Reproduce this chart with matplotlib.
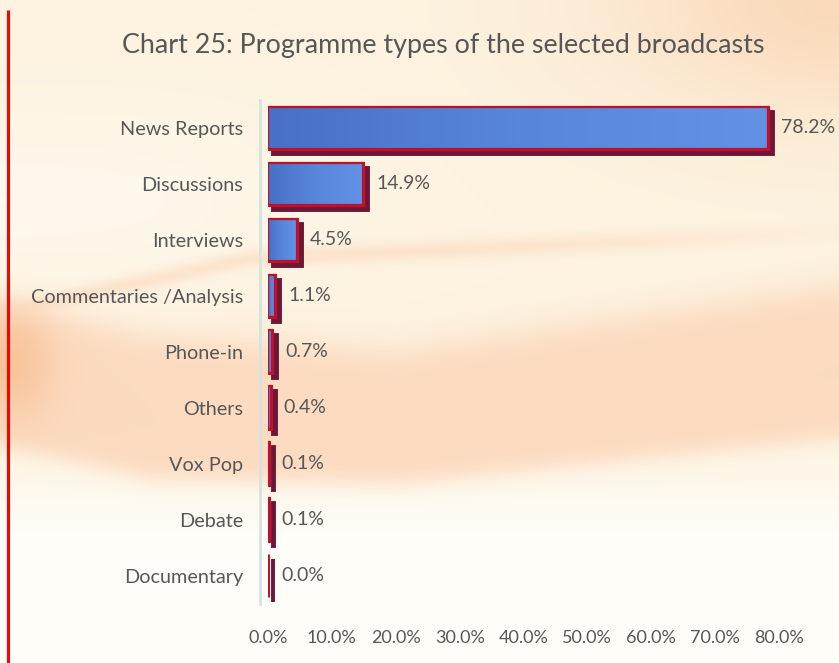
import numpy as np
import matplotlib
matplotlib.use("Agg")
import matplotlib.pyplot as plt
from matplotlib.transforms import offset_copy
from matplotlib.colors import LinearSegmentedColormap

# Data
categories = ["News Reports", "Discussions", "Interviews", "Commentaries /Analysis",
              "Phone-in", "Others", "Vox Pop", "Debate", "Documentary"]
shares = [78.2, 14.9, 4.5, 1.1, 0.7, 0.4, 0.1, 0.1, 0.0]
xticks = [0, 10, 20, 30, 40, 50, 60, 70, 80]
title = "Chart 25: Programme types of the selected broadcasts"

plt.rcParams["font.family"] = ["Lato", "DejaVu Sans"]
TEXT = "#575757"

W, H = 839, 663
fig = plt.figure(figsize=(W / 100, H / 100), dpi=100)

# ---- decorative background (cream with peach swooshes) ----
bg_ax = fig.add_axes([0, 0, 1, 1], zorder=-10)
bg_ax.set_axis_off()
yy, xx = np.mgrid[0:H, 0:W].astype(float)


def sig(z, w):
    return 1.0 / (1.0 + np.exp(-z / w))


def blend(img, mask, color, k=1.0):
    m = (k * mask)[..., None]
    return img * (1 - m) + np.asarray(color) / 255 * m


base_top = np.array([253, 243, 224]) / 255
base_bot = np.array([255, 254, 249]) / 255
t = np.clip((yy - 430) / 110.0, 0, 1)[..., None]
img = base_top * (1 - t) + base_bot * t

# whiter area in the left middle
wmask = sig(260 - xx, 60) * np.exp(-((yy - 200) / 90.0) ** 2)
img = blend(img, wmask, (255, 252, 246), 0.6)

# broad peach band
bx = [0, 150, 400, 839]
up = np.interp(xx, bx, [300, 335, 350, 285])
lo = np.interp(xx, bx, [445, 478, 483, 437])
band = sig(yy - up, 9) * sig(lo - yy, 6)
img = blend(img, band, (252, 219, 192))

# stronger orange at the left edge of the band
om = band * sig(45 - xx, 12) * np.exp(-((yy - 360) / 60.0) ** 2)
img = blend(img, om, (247, 186, 142), 0.75)

# thin swoosh above the band
sc = np.interp(xx, [0, 250, 839], [312, 258, 232])
stripe = np.exp(-((yy - sc) / 9.0) ** 2) * sig(700 - xx, 80)
img = blend(img, stripe, (251, 214, 186), 0.55)

# top-right glow
tr = np.exp(-(((xx - 839) / 230.0) ** 2 + ((yy - 0) / 120.0) ** 2))
img = blend(img, tr, (250, 212, 178), 0.8)

bg_ax.imshow(np.clip(img, 0, 1), extent=[0, W, H, 0], aspect="auto", interpolation="bilinear")
bg_ax.set_xlim(0, W)
bg_ax.set_ylim(H, 0)

# red vertical rule on the left
bg_ax.plot([7.5, 7.5], [10, H], color="#ff0000", lw=2.2, solid_capstyle="butt")

# title
fig.text(0.528, 1 - 45 / H, title, ha="center", va="center", fontsize=19.4, color=TEXT)

# ---- chart ----
ax = fig.add_axes([268 / W, 1 - 603.5 / H, (779 - 268) / W, 503.5 / H])
ax.patch.set_alpha(0)
for s in ["top", "right", "bottom"]:
    ax.spines[s].set_visible(False)
ax.spines["left"].set_position(("outward", 6))
ax.spines["left"].set_color("#d6e3df")
ax.spines["left"].set_linewidth(2)

ypos = np.arange(len(categories))
bar_h = 0.76

# 3D depth behind each bar
depth = offset_copy(ax.transData, fig=fig, x=5, y=-5, units="dots")
ax.barh(ypos, shares, height=bar_h, color="#86112a", edgecolor="#6a1838",
        linewidth=2.8, transform=depth, zorder=2)

faces = ax.barh(ypos, shares, height=bar_h, color="#4f7bd0", edgecolor="#c8102c",
                linewidth=2.2, zorder=3)

grad = np.linspace(0, 1, 256)[None, :]
cmap = LinearSegmentedColormap.from_list("face", ["#4770c6", "#5886da", "#6391e6"])
for patch, v in zip(faces, shares):
    if v <= 0:
        continue
    x0, y0 = patch.get_x(), patch.get_y()
    im = ax.imshow(grad, extent=[x0, x0 + patch.get_width(), y0, y0 + patch.get_height()],
                   cmap=cmap, aspect="auto", zorder=3.5, interpolation="bilinear")
    im.set_clip_path(patch)
    edge = plt.Rectangle((x0, y0), patch.get_width(), patch.get_height(), fill=False,
                         edgecolor="#b8122e", linewidth=1.6, zorder=4)
    ax.add_patch(edge)

label_off = offset_copy(ax.transData, fig=fig, x=13, y=0, units="dots")
for i, v in enumerate(shares):
    ax.text(v, i, f"{v:.1f}%", transform=label_off, ha="left", va="center",
            fontsize=14, color=TEXT)

ax.set_xlim(0, 80)
ax.set_ylim(len(categories) - 0.5, -0.5)
ax.set_yticks(ypos)
ax.set_yticklabels(categories)
ax.set_xticks(xticks)
ax.set_xticklabels([f"{x:.1f}%" for x in xticks])
ax.tick_params(axis="y", length=0, pad=12, labelsize=14.3, labelcolor=TEXT)
ax.tick_params(axis="x", length=0, pad=19, labelsize=13, labelcolor=TEXT)

fig.savefig("out.png", dpi=100)
